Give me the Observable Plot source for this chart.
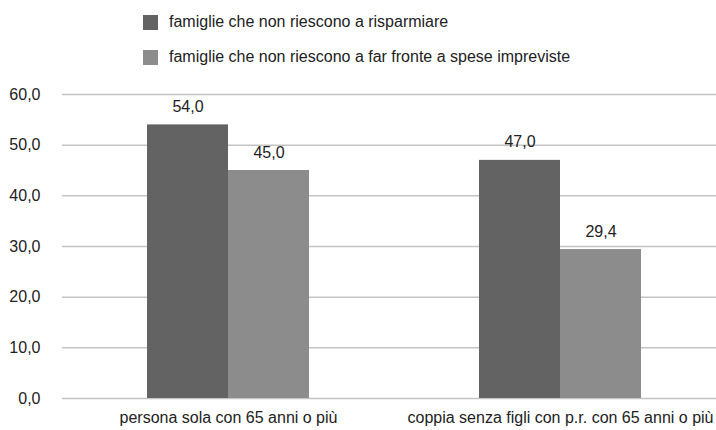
<!DOCTYPE html>
<html>
<head>
<meta charset="utf-8">
<script src="https://cdn.jsdelivr.net/npm/d3@7"></script>
<script src="https://cdn.jsdelivr.net/npm/@observablehq/plot@0.6"></script>
<style>
  html, body { margin: 0; padding: 0; background: #fff; overflow: hidden; }
  body { font-family: "Liberation Sans", Arial, sans-serif; }
  #legend { position: relative; width: 716px; height: 75px; }
  .item { position: absolute; left: 143px; height: 16px; display: flex; align-items: center; font-size: 16px; color: #222; white-space: nowrap; }
  .sw { width: 15px; height: 15px; margin-right: 11px; }
</style>
</head>
<body>
<div id="legend"></div>
<div id="chart"></div>
<script>
const categories = ["persona sola con 65 anni o più", "coppia senza figli con p.r. con 65 anni o più"];
const series = ["famiglie che non riescono a risparmiare", "famiglie che non riescono a far fronte a spese impreviste"];
const risparmiare = [54.0, 47.0];
const impreviste = [45.0, 29.4];
const yTicks = [0, 10, 20, 30, 40, 50, 60];
const colors = ["#636363", "#8c8c8c"];

const fmt = d => d.toFixed(1).replace(".", ",");

const legend = document.getElementById("legend");
series.forEach((s, i) => {
  const el = document.createElement("div");
  el.className = "item";
  el.style.top = (14 + i * 35) + "px";
  el.innerHTML = `<span class="sw" style="background:${colors[i]}"></span><span>${s}</span>`;
  legend.appendChild(el);
});

const rows = [];
categories.forEach((c, i) => {
  rows.push({cat: c, series: series[0], value: risparmiare[i]});
  rows.push({cat: c, series: series[1], value: impreviste[i]});
});
const s1 = rows.filter(d => d.series === series[0]);
const s2 = rows.filter(d => d.series === series[1]);

const chart = Plot.plot({
  width: 716,
  height: 355,
  marginTop: 19,
  marginBottom: 32,
  marginLeft: 62,
  marginRight: 0,
  style: {fontFamily: "'Liberation Sans', Arial, sans-serif", fontSize: "16px", color: "#222", background: "#fff"},
  x: {domain: categories, range: [62, 726], paddingInner: 0.512, paddingOuter: 0.256, label: null},
  y: {domain: [0, 60], ticks: yTicks, label: null},
  marks: [
    Plot.ruleY(yTicks, {stroke: "#c4c4c4", strokeWidth: 1.5}),
    Plot.barY(s1, {x: "cat", y: "value", fill: colors[0], insetRight: 81, insetLeft: 0}),
    Plot.barY(s2, {x: "cat", y: "value", fill: colors[1], insetLeft: 81, insetRight: 0}),
    Plot.text(s1, {x: "cat", y: "value", text: d => fmt(d.value), dx: -40.5, dy: -18, fill: "#222", fontSize: 16}),
    Plot.text(s2, {x: "cat", y: "value", text: d => fmt(d.value), dx: 40.5, dy: -18, fill: "#222", fontSize: 16}),
    Plot.axisY({ticks: yTicks, tickFormat: fmt, tickSize: 0, tickPadding: 22, fontSize: 16, fill: "#222"}),
    Plot.axisX({tickSize: 0, tickPadding: 13, fontSize: 16, fill: "#222"})
  ]
});
document.getElementById("chart").appendChild(chart);
</script>
</body>
</html>
